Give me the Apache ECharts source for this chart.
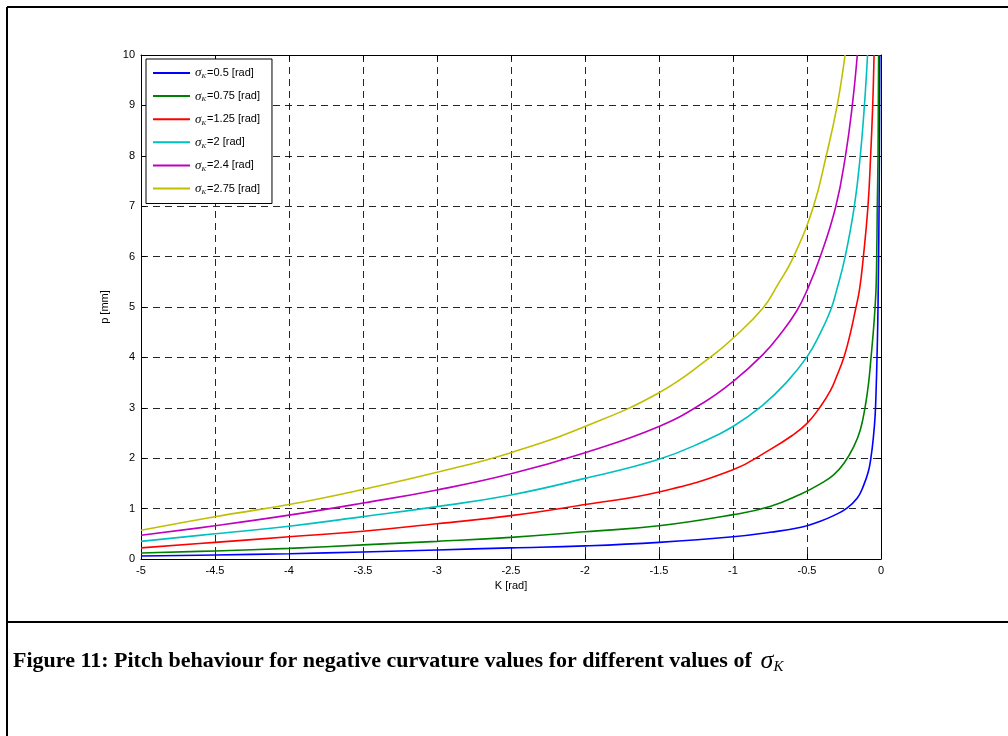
<!DOCTYPE html>
<html>
<head>
<meta charset="utf-8">
<script src="https://cdn.jsdelivr.net/npm/echarts@6/dist/echarts.min.js"></script>
<style>
html,body{margin:0;padding:0;background:#fff;}
#c{width:1008px;height:736px;}
</style>
</head>
<body>
<div id="c"></div>
<script>
// sigma_K values (legend)
const sigmaValues = ['0.5', '0.75', '1.25', '2', '2.4', '2.75'];
const seriesColors = ['#0000ff', '#008000', '#ff0000', '#00bfbf', '#bf00bf', '#bfbf00'];

// x axis ticks (K [rad]) and y axis ticks (p [mm])
const xTicks = [-5, -4.5, -4, -3.5, -3, -2.5, -2, -1.5, -1, -0.5, 0];
const yTicks = [0, 1, 2, 3, 4, 5, 6, 7, 8, 9, 10];

// [K, p] points
const pSigma050 = [[-5,0.06],[-4.5,0.08],[-4,0.105],[-3.5,0.14],[-3,0.18],[-2.5,0.22],[-2,0.26],[-1.5,0.33],[-1,0.44],[-0.75,0.53],[-0.54,0.63],[-0.41,0.75],[-0.32,0.86],[-0.23,1.01],[-0.16,1.21],[-0.12,1.44],[-0.085,1.74],[-0.067,2.03],[-0.051,2.43],[-0.04,2.83],[-0.033,3.35],[-0.027,4.0],[-0.022,4.67],[-0.018,5.5],[-0.013,7],[-0.01,8.5],[-0.008,10]];
const pSigma075 = [[-5,0.12],[-4.5,0.16],[-4,0.21],[-3.5,0.28],[-3,0.35],[-2.5,0.43],[-2,0.54],[-1.5,0.66],[-1,0.88],[-0.75,1.04],[-0.54,1.29],[-0.41,1.49],[-0.32,1.67],[-0.25,1.9],[-0.184,2.23],[-0.14,2.56],[-0.107,3.02],[-0.084,3.49],[-0.067,4.01],[-0.051,4.54],[-0.04,5.0],[-0.033,5.4],[-0.029,6],[-0.025,7],[-0.02,8],[-0.018,9],[-0.016,10]];
const pSigma125 = [[-5,0.22],[-4.5,0.33],[-4,0.44],[-3.5,0.55],[-3,0.7],[-2.5,0.86],[-2,1.08],[-1.5,1.33],[-1,1.77],[-0.75,2.17],[-0.6,2.45],[-0.5,2.69],[-0.41,3.02],[-0.34,3.35],[-0.3,3.62],[-0.25,4.01],[-0.207,4.48],[-0.173,4.94],[-0.145,5.35],[-0.119,6],[-0.088,7],[-0.07,8],[-0.056,9],[-0.047,10]];
const pSigma200 = [[-5,0.35],[-4.5,0.5],[-4,0.65],[-3.5,0.84],[-3,1.04],[-2.5,1.27],[-2,1.6],[-1.5,1.98],[-1.2,2.33],[-1,2.63],[-0.8,3.05],[-0.64,3.5],[-0.5,4.01],[-0.41,4.48],[-0.34,4.94],[-0.3,5.33],[-0.242,6],[-0.18,7],[-0.14,8],[-0.112,9],[-0.091,10]];
const pSigma240 = [[-5,0.47],[-4.5,0.66],[-4,0.87],[-3.5,1.11],[-3,1.37],[-2.5,1.69],[-2,2.11],[-1.5,2.63],[-1.2,3.1],[-1,3.52],[-0.8,4.05],[-0.67,4.5],[-0.57,4.92],[-0.5,5.33],[-0.41,6],[-0.305,7],[-0.24,8],[-0.194,9],[-0.16,10]];
const pSigma275 = [[-5,0.57],[-4.5,0.84],[-4,1.08],[-3.5,1.38],[-3,1.72],[-2.5,2.11],[-2,2.63],[-1.5,3.3],[-1.15,4.01],[-1,4.38],[-0.8,4.97],[-0.7,5.43],[-0.59,6],[-0.456,7],[-0.37,8],[-0.296,9],[-0.243,10]];

const seriesData = [pSigma050, pSigma075, pSigma125, pSigma200, pSigma240, pSigma275];

const chart = echarts.init(document.getElementById('c'), null, {renderer: 'canvas'});

const FONT = 'Liberation Sans, Arial, sans-serif';
const SERIF = 'Liberation Serif, Times New Roman, serif';
const gridLine = {show: true, lineStyle: {color: '#000', type: [7, 5], width: 1, opacity: 0.85}};

const xBase = {
  type: 'value', min: xTicks[0], max: xTicks[xTicks.length - 1], interval: 0.5,
  axisLine: {show: true, onZero: false, lineStyle: {color: '#000', width: 1}},
  axisTick: {show: true, inside: true, length: 5, lineStyle: {color: '#000'}},
  splitLine: {show: false}
};
const yBase = {
  type: 'value', min: yTicks[0], max: yTicks[yTicks.length - 1], interval: 1,
  axisLine: {show: true, onZero: false, lineStyle: {color: '#000', width: 1}},
  axisTick: {show: true, inside: true, length: 5, lineStyle: {color: '#000'}},
  splitLine: {show: false}
};

chart.setOption({
  animation: false,
  backgroundColor: '#fff',
  grid: {left: 141, right: 127, top: 55, bottom: 177, containLabel: false},
  xAxis: [
    Object.assign({}, xBase, {
      position: 'bottom',
      name: 'K [rad]', nameLocation: 'middle', nameGap: 21,
      nameTextStyle: {fontFamily: FONT, fontSize: 11, color: '#000'},
      axisLabel: {show: true, margin: 6, fontFamily: FONT, fontSize: 11, color: '#000'},
      splitLine: gridLine
    }),
    Object.assign({}, xBase, {position: 'top', axisLabel: {show: false}})
  ],
  yAxis: [
    Object.assign({}, yBase, {
      position: 'left',
      name: 'p [mm]', nameLocation: 'middle', nameGap: 31, nameRotate: 90,
      nameTextStyle: {fontFamily: FONT, fontSize: 11, color: '#000'},
      axisLabel: {show: true, margin: 6, fontFamily: FONT, fontSize: 11, color: '#000'},
      splitLine: gridLine
    }),
    Object.assign({}, yBase, {position: 'right', axisLabel: {show: false}})
  ],
  legend: {
    show: true, orient: 'vertical', left: 146, top: 59,
    backgroundColor: '#fff', borderColor: '#000', borderWidth: 1,
    padding: [7, 12, 8, 7],
    itemWidth: 37, itemHeight: 2, itemGap: 9.1, icon: 'rect',
    data: sigmaValues,
    formatter: function (n) { return '{s|σ}{k|K}{t|=' + n + ' [rad]}'; },
    textStyle: {
      color: '#000', fontFamily: FONT, fontSize: 11, lineHeight: 14,
      rich: {
        s: {fontFamily: SERIF, fontStyle: 'italic', fontSize: 13, lineHeight: 14, color: '#000'},
        k: {fontFamily: SERIF, fontStyle: 'italic', fontSize: 7, lineHeight: 14, verticalAlign: 'bottom', color: '#000', padding: [0, 1, 0, 0]},
        t: {fontFamily: FONT, fontSize: 11, lineHeight: 14, color: '#000'}
      }
    }
  },
  series: sigmaValues.map(function (name, i) {
    return {
      name: name, type: 'line', data: seriesData[i],
      xAxisIndex: 0, yAxisIndex: 0,
      showSymbol: false, symbol: 'none', smooth: 0.45,
      clip: true,
      lineStyle: {color: seriesColors[i], width: 1.6},
      itemStyle: {color: seriesColors[i]},
      z: 3
    };
  }),
  graphic: [
    {type: 'line', shape: {x1: 7, y1: 7, x2: 1008, y2: 7}, style: {stroke: '#000', lineWidth: 2}},
    {type: 'line', shape: {x1: 7, y1: 7, x2: 7, y2: 736}, style: {stroke: '#000', lineWidth: 2}},
    {type: 'line', shape: {x1: 7, y1: 622, x2: 1008, y2: 622}, style: {stroke: '#000', lineWidth: 2}},
    {
      type: 'text', left: 13, top: 648,
      style: {
        text: '{b|Figure 11: Pitch behaviour for negative curvature values for different values of } {s|σ}{k|K}',
        rich: {
          b: {fontFamily: SERIF, fontWeight: 'bold', fontSize: 22, fill: '#000', lineHeight: 28},
          s: {fontFamily: SERIF, fontStyle: 'italic', fontSize: 26, fill: '#000', lineHeight: 28},
          k: {fontFamily: SERIF, fontStyle: 'italic', fontSize: 15, fill: '#000', lineHeight: 28, verticalAlign: 'bottom', padding: [10, 0, 0, 0]}
        }
      }
    }
  ]
});
</script>
</body>
</html>
